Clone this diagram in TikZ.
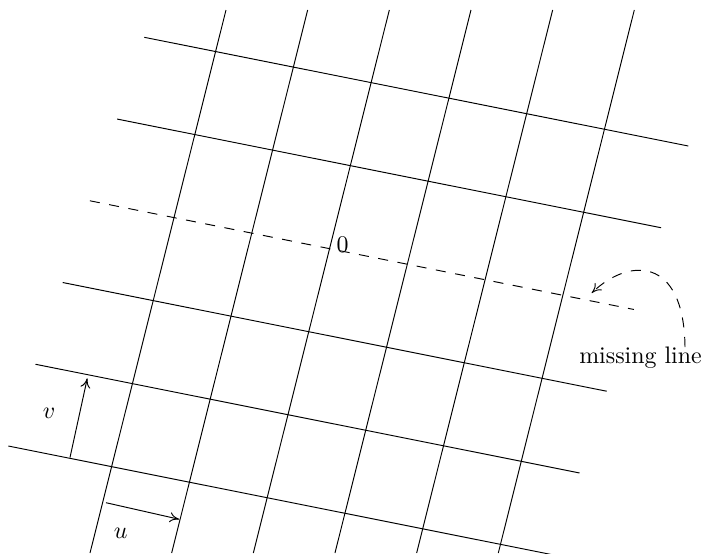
\documentclass[tikz,border=0pt]{standalone}
\usetikzlibrary{arrows.meta}
\tikzset{
  gridline/.style={line width=0.4pt},
  missline/.style={line width=0.4pt, dash pattern=on 4.2pt off 4pt},
  vectip/.style={-{To[length=4pt,width=4.2pt]}},
  vecarrow/.style={vectip, line width=0.4pt},
  lab/.style={inner sep=0pt}
}
\begin{document}
\begin{tikzpicture}[x=0.4184pt,y=-0.4184pt]
\useasboundingbox (0,0) rectangle (704,553);
% near-vertical lines
\foreach \i in {0,...,5}{
  \coordinate (vt\i) at ({226+81.66*\i},10);
  \coordinate (vb\i) at ({90+81.66*\i},553);
  \draw[gridline] (vt\i) -- (vb\i);
}
% near-horizontal lines
\foreach \k in {0,1,3,4,5}{
  \coordinate (hs\k) at ({144.3-27.2*\k},{37.3+81.74*\k});
  \coordinate (he\k) at ({688.3-27.2*\k},{146+81.74*\k});
  \draw[gridline] (hs\k) -- (he\k);
}
\coordinate (hs2) at ({144.3-27.2*2},{37.3+81.74*2});
\coordinate (he2) at ({688.3-27.2*2},{146+81.74*2});
\draw[missline] (hs2) -- (he2);
% labels
\node[lab] (zero) at (342.5,244.8) {0};
\node[lab] (ulab) at (120.8,533) {$u$};
\node[lab] (vlab) at (49.2,413.3) {$v$};
\node[lab] (miss) at (640.5,357.3) {missing line};
% vectors
\coordinate (us) at (106,502.7);
\coordinate (ue) at (179.3,519.3);
\draw[vecarrow] (us) -- (ue);
\coordinate (vs) at (70,457.5);
\coordinate (ve) at (87.3,378.3);
\draw[vecarrow] (vs) -- (ve);
% curved arrow
\coordinate (ms) at (685,347);
\coordinate (mt) at (591.7,293);
\draw[missline,vectip] (ms) .. controls (684,255) and (628,258) .. (mt);
\end{tikzpicture}
\end{document}
